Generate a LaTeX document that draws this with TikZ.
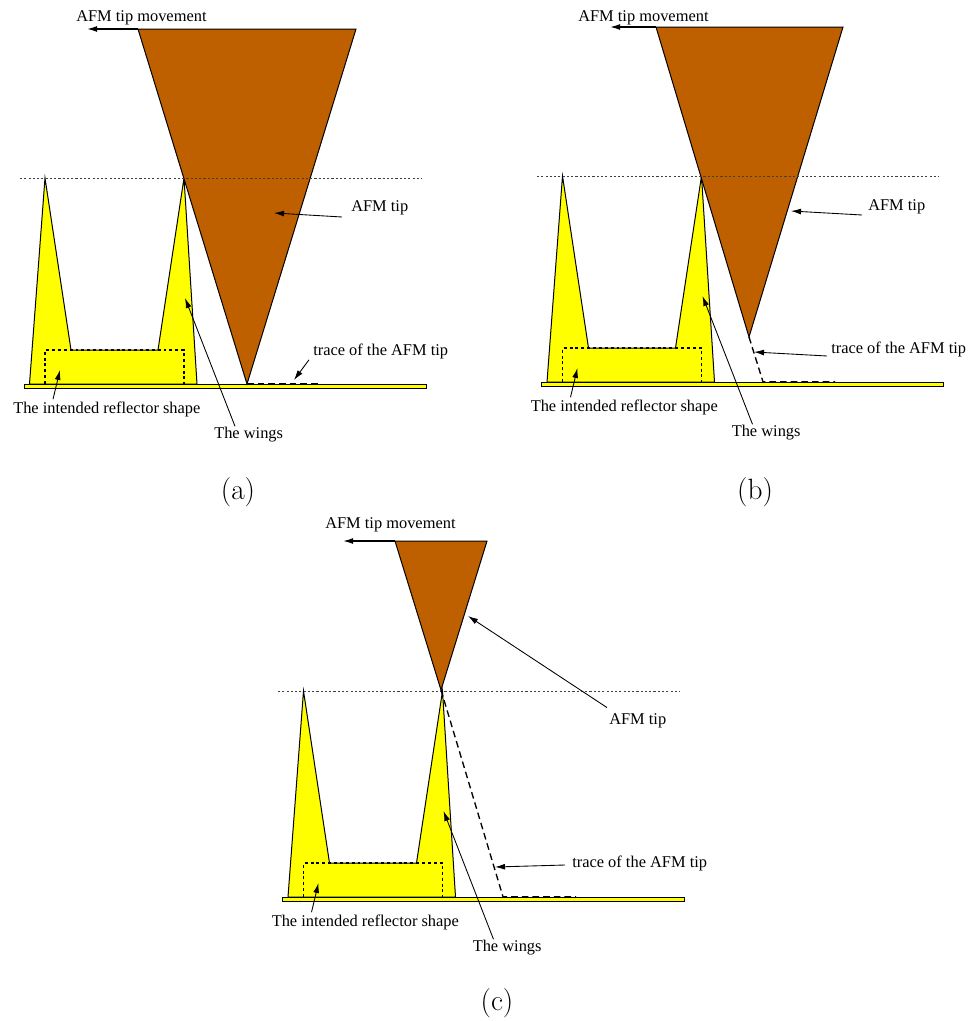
\documentclass[tikz,border=0pt]{standalone}
\usepackage{fontspec}
\newfontfamily\figfont{Liberation Serif}
\usetikzlibrary{
  arrows.meta,
  calc,
  positioning
}
\definecolor{tipbrown}{RGB}{191,96,0}
\definecolor{wingyellow}{RGB}{255,255,0}
\tikzset{
  >={Latex[length=7.5pt,width=4.4pt]},
  leader/.style={->,line width=.65pt,draw=black},
  movearrow/.style={->,line width=1pt,draw=black},
  outline/.style={draw=black,line width=.75pt,line join=miter},
  reflector/.style={outline,fill=wingyellow},
  afmtip/.style={outline,fill=tipbrown},
  dotline/.style={draw=black!75,line width=.7pt,dash pattern=on 1.6pt off 1.6pt},
  shapeline/.style={draw=black,line width=.85pt,dash pattern=on 2.2pt off 2.2pt},
  traceline/.style={draw=black,line width=1pt,dash pattern=on 5pt off 3pt},
  figlabel/.style={font=\figfont\fontsize{12.3pt}{14pt}\selectfont,inner sep=0pt,anchor=west,yshift=-1.5pt},
  subcaption/.style={font=\fontsize{22pt}{26pt}\selectfont,inner sep=0pt}
}
% one reflector with its wings, drawn in the frame of panel (a)
\newcommand{\wingedreflector}[1]{%
  \draw[reflector] (29.5,384) -- (45,178) -- (71,350) -- (158,350) -- (184,178) -- (197,384) -- cycle;
  \draw[reflector] (24,384.5) rectangle (426,388.5);
  \draw[shapeline] (45,384) -- (45,350) -- (184,350) -- (184,384);
  \coordinate (#1shape) at (60,370);
  \coordinate (#1wing) at (185,298);
  \node[figlabel] (#1shapelabel) at (13,407) {The intended reflector shape};
  \node[figlabel] (#1winglabel) at (214,433) {The wings};
  \draw[leader] ($(#1shapelabel.north west)+(40,-2)$) -- (#1shape);
  \draw[leader] ($(#1winglabel.north west)+(21,-1)$) -- (#1wing);
}
\begin{document}
\begin{tikzpicture}[x=.75pt,y=-.75pt]
  \useasboundingbox (0,0) rectangle (971,1021);

  % panel a
  \begin{scope}
    \wingedreflector{a}
    \draw[traceline] (247,383.8) -- (318,383.8);
  \end{scope}
  \draw[afmtip] (138,29) coordinate (atip) -- (356,29) -- (247,384) -- cycle;
  \draw[dotline] (20,178) -- (422,178);
  \node[figlabel] (amove) at (76,16) {AFM tip movement};
  \coordinate (amovehead) at (87,29);
  \draw[movearrow] (atip) -- (amovehead);
  \node[figlabel] (atiplabel) at (351,206) {AFM tip};
  \coordinate (atiphead) at (274,213);
  \draw[leader] ($(atiplabel.west)+(-9,9)$) -- (atiphead);
  \node[figlabel] (atrace) at (313,349) {trace of the AFM tip};
  \coordinate (atracehead) at (294,380);
  \draw[leader] ($(atrace.south west)+(-4,1)$) -- (atracehead);
  \node[subcaption] (acap) at (238,492) {(a)};

  % panel b
  \begin{scope}[shift={(517.5,-2)}]
    \wingedreflector{b}
  \end{scope}
  \draw[afmtip] (656,27) coordinate (btip) -- (843,27) -- (749,337) coordinate (bapex) -- cycle;
  \draw[dotline] (537,176) -- (939,176);
  \coordinate (bfoot) at (763,381.8);
  \coordinate (bend) at (835,381.8);
  \draw[traceline] (bapex) -- (bfoot) -- (bend);
  \node[figlabel] (bmove) at (578,16) {AFM tip movement};
  \coordinate (bmovehead) at (610,27);
  \draw[movearrow] (btip) -- (bmovehead);
  \node[figlabel] (btiplabel) at (868,205) {AFM tip};
  \coordinate (btiphead) at (791,211);
  \draw[leader] ($(btiplabel.west)+(-6,8)$) -- (btiphead);
  \node[figlabel] (btrace) at (831,347) {trace of the AFM tip};
  \coordinate (btracehead) at (754,352);
  \draw[leader] ($(btrace.west)+(-4,7)$) -- (btracehead);
  \node[subcaption] (bcap) at (755,492) {(b)};

  % panel c
  \begin{scope}[shift={(258.5,513)}]
    \wingedreflector{c}
  \end{scope}
  \draw[afmtip] (395,541) coordinate (ctip) -- (487,541) -- (441,690) coordinate (capex) -- cycle;
  \draw[dotline] (278,691) -- (680,691);
  \coordinate (cfoot) at (503,896.8);
  \coordinate (cend) at (576,896.8);
  \draw[traceline] (capex) -- (cfoot) -- (cend);
  \node[figlabel] (cmove) at (325,523) {AFM tip movement};
  \coordinate (cmovehead) at (343,541);
  \draw[movearrow] (ctip) -- (cmovehead);
  \node[figlabel] (ctiplabel) at (609,719) {AFM tip};
  \coordinate (ctiphead) at (468,616);
  \draw[leader] ($(ctiplabel.north west)+(-2,-6)$) -- (ctiphead);
  \node[figlabel] (ctrace) at (572,861) {trace of the AFM tip};
  \coordinate (ctracehead) at (495,867);
  \draw[leader] ($(ctrace.west)+(-7,2)$) -- (ctracehead);
  \node[subcaption] (ccap) at (497,1003) {(c)};
\end{tikzpicture}
\end{document}
